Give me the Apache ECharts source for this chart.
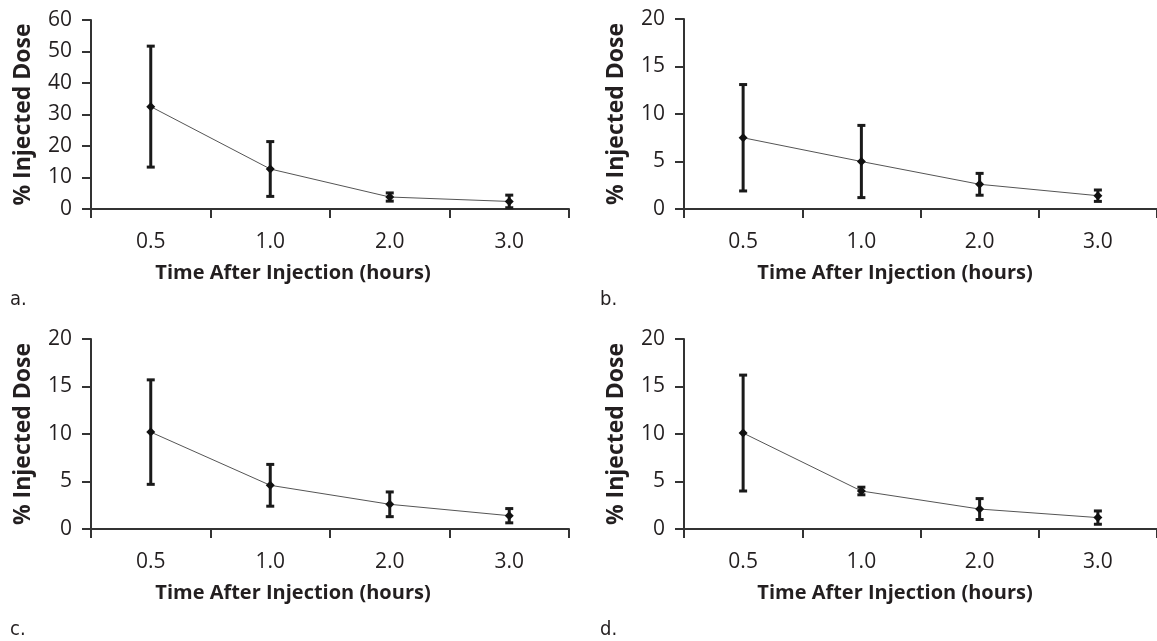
<!DOCTYPE html>
<html>
<head>
<meta charset="utf-8">
<script src="https://cdn.jsdelivr.net/npm/echarts@6/dist/echarts.min.js"></script>
<style>
html, body { margin: 0; padding: 0; background: #fff; }
#main { width: 1157px; height: 641px; }
</style>
</head>
<body>
<div id="main"></div>
<script>
// time points (hours)
var hours = ['0.5', '1.0', '2.0', '3.0'];

// % injected dose, mean and error per panel
var meanA = [32.5, 12.7, 3.8, 2.4];
var errA  = [19.2, 8.7, 1.3, 2.0];
var meanB = [7.5, 5.0, 2.6, 1.4];
var errB  = [5.6, 3.8, 1.15, 0.6];
var meanC = [10.2, 4.6, 2.6, 1.4];
var errC  = [5.5, 2.2, 1.3, 0.75];
var meanD = [10.1, 4.0, 2.1, 1.2];
var errD  = [6.1, 0.4, 1.1, 0.7];

var yMax = [60, 20, 20, 20];
var yStep = [10, 5, 5, 5];
var panelNames = ['a.', 'b.', 'c.', 'd.'];

var font = '"Open Sans", Lato, sans-serif';
var ink = '#231f20';

var grids = [
  { left: 91, top: 20, width: 478, height: 189 },
  { left: 684, top: 19, width: 478, height: 190 },
  { left: 91, top: 339, width: 478, height: 190 },
  { left: 684, top: 339, width: 478, height: 190 }
];

var means = [meanA, meanB, meanC, meanD];
var errs = [errA, errB, errC, errD];

var xAxes = [], yAxes = [], series = [];
for (var i = 0; i < 4; i++) {
  xAxes.push({
    type: 'category', gridIndex: i, data: hours,
    boundaryGap: true,
    axisLine: { lineStyle: { color: '#333', width: 2 } },
    axisTick: { show: true, length: 9, lineStyle: { color: '#333', width: 2 } },
    axisLabel: { color: ink, fontSize: 21, fontFamily: font, margin: 23 }
  });
  yAxes.push({
    type: 'value', gridIndex: i, min: 0, max: yMax[i], interval: yStep[i],
    splitLine: { show: false },
    axisLine: { show: true, lineStyle: { color: '#333', width: 2 } },
    axisTick: { show: true, length: 9, lineStyle: { color: '#333', width: 2 } },
    axisLabel: { color: ink, fontSize: 21, fontFamily: font, margin: 19 },
    name: '% Injected Dose', nameLocation: 'middle', nameGap: 56,
    nameTextStyle: { color: ink, fontSize: 23, fontWeight: 'bold', fontFamily: font }
  });
  series.push({
    type: 'line', xAxisIndex: i, yAxisIndex: i,
    data: means[i],
    symbol: 'diamond', symbolSize: 9,
    itemStyle: { color: '#111' },
    lineStyle: { color: '#555', width: 1 },
    z: 3
  });
  var ebData = means[i].map(function (m, k) { return [k, m, errs[i][k]]; });
  series.push({
    type: 'custom', xAxisIndex: i, yAxisIndex: i,
    data: ebData,
    z: 2,
    renderItem: function (params, api) {
      var x = api.value(0), m = api.value(1), e = api.value(2);
      var top = api.coord([x, m + e]);
      var bot = api.coord([x, m - e]);
      var cap = 4;
      var st = { stroke: '#1a1a1a', lineWidth: 3 };
      return {
        type: 'group',
        children: [
          { type: 'line', shape: { x1: top[0], y1: top[1], x2: bot[0], y2: bot[1] }, style: st },
          { type: 'line', shape: { x1: top[0] - cap, y1: top[1], x2: top[0] + cap, y2: top[1] }, style: st },
          { type: 'line', shape: { x1: bot[0] - cap, y1: bot[1], x2: bot[0] + cap, y2: bot[1] }, style: st }
        ]
      };
    }
  });
}

// x axis titles and panel letters
var xTitlePos = [[293, 273], [895, 273], [293, 593], [895, 593]];
var letterPos = [[10, 300], [600, 300], [10, 630], [600, 630]];
var graphics = [];
for (var j = 0; j < 4; j++) {
  graphics.push({
    type: 'text', x: xTitlePos[j][0], y: xTitlePos[j][1],
    style: { text: 'Time After Injection (hours)', fill: ink, font: 'bold 20px ' + font,
             textAlign: 'center', textVerticalAlign: 'middle' }
  });
  graphics.push({
    type: 'text', x: letterPos[j][0], y: letterPos[j][1],
    style: { text: panelNames[j], fill: ink, font: '20px "Liberation Sans Narrow", "DejaVu Sans Condensed", sans-serif',
             textAlign: 'left', textVerticalAlign: 'middle' }
  });
}

var chart = echarts.init(document.getElementById('main'));
chart.setOption({
  animation: false,
  backgroundColor: '#fff',
  grid: grids,
  xAxis: xAxes,
  yAxis: yAxes,
  series: series,
  graphic: graphics
});
</script>
</body>
</html>
